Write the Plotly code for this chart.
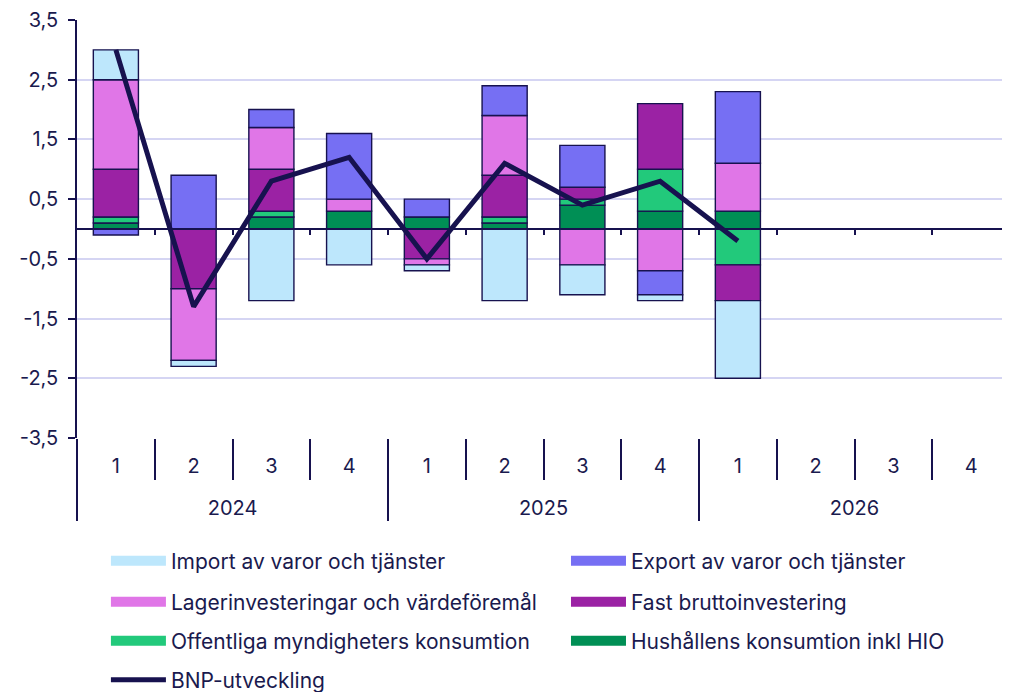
import plotly.graph_objects as go

years = ["2024"] * 4 + ["2025"] * 4 + ["2026"] * 4
quarters = ["1", "2", "3", "4"] * 3
year_labels = ["2024", "2025", "2026"]

hushall = [0.1, None, 0.2, 0.3, 0.2, 0.1, 0.4, 0.3, 0.3, None, None, None]
offentliga = [0.1, None, 0.1, None, None, 0.1, 0.1, 0.7, -0.6, None, None, None]
fast = [0.8, -1.0, 0.7, None, -0.5, 0.7, 0.2, 1.1, -0.6, None, None, None]
lager = [1.5, -1.2, 0.7, 0.2, -0.1, 1.0, -0.6, -0.7, 0.8, None, None, None]
export = [-0.1, 0.9, 0.3, 1.1, 0.3, 0.5, 0.7, -0.4, 1.2, None, None, None]
importv = [0.5, -0.1, -1.2, -0.6, -0.1, -1.2, -0.5, -0.1, -1.3, None, None, None]
bnp = [3.0, -1.3, 0.8, 1.2, -0.5, 1.1, 0.4, 0.8, -0.2, None, None, None]

y_ticks = [-3.5, -2.5, -1.5, -0.5, 0.5, 1.5, 2.5, 3.5]
y_ticktext = [f"{v:.1f}".replace(".", ",") for v in y_ticks]

n = len(quarters)
idx = list(range(n))
boundaries = [i + 0.5 for i in range(n - 1)]
year_centers = [4 * k + 1.5 for k in range(len(year_labels))]
year_edges = [4 * k - 0.5 for k in range(len(year_labels) + 1)]
xr = [-0.5, n - 0.5]

NAVY = "#17124f"
TEXT = "#1a1a4e"
FONT = "Inter"
x = [years, quarters]

# (name, values, colour, legend id, legend column, legend row)
series = [
    ("Hushållens konsumtion inkl HIO", hushall, "#008f55", "legend6", 1, 2),
    ("Offentliga myndigheters konsumtion", offentliga, "#22c97b", "legend5", 0, 2),
    ("Fast bruttoinvestering", fast, "#9b22a4", "legend4", 1, 1),
    ("Lagerinvesteringar och värdeföremål", lager, "#e076e7", "legend3", 0, 1),
    ("Export av varor och tjänster", export, "#766ff3", "legend2", 1, 0),
    ("Import av varor och tjänster", importv, "#bde7fc", "legend", 0, 0),
]

fig = go.Figure()
for name, vals, color, leg, col, row in series:
    fig.add_trace(go.Bar(
        x=x, y=vals, name=name, showlegend=False,
        marker=dict(color=color, line=dict(color=NAVY, width=1.4)),
        width=0.58,
    ))

fig.add_trace(go.Scatter(
    x=x, y=bnp, name="BNP-utveckling", mode="lines", legend="legend7",
    line=dict(color=NAVY, width=5),
))

# legend swatches (wide rectangles) for the bar series; each also anchors one
# of the overlay axes used for the zero line, separators and labels
over_axes = ["x2", "x3", "x4", "x5", "x6"]
for i, (name, vals, color, leg, col, row) in enumerate(series):
    fig.add_trace(go.Scatter(
        x=[None], y=[None], name=name, mode="lines", legend=leg,
        xaxis=over_axes[i % len(over_axes)],
        line=dict(color=color, width=14), hoverinfo="skip",
    ))

# page offset of 8 px (body margin) is compensated in the figure size/margins
OFF = 8
row_px = [561, 602, 641, 680]
col_x = [0.031, 0.5241]
plot_top, plot_bot = 20, 438


def py(p):
    return (plot_bot - p) / (plot_bot - plot_top)


legends = {}
for name, vals, color, leg, col, row in series:
    legends[leg] = (col, row)
legends["legend7"] = (0, 3)
layout_legends = {}
for leg, (col, row) in legends.items():
    layout_legends[leg] = dict(
        x=col_x[col], y=py(row_px[row]), xanchor="left", yanchor="middle",
        orientation="h", itemwidth=55, bgcolor="rgba(0,0,0,0)",
        font=dict(family=FONT, size=21, color=TEXT),
    )

common_over = dict(overlaying="x", anchor="free", range=xr, showgrid=False,
                   zeroline=False, side="bottom")

fig.update_layout(
    width=1010 - OFF, height=692 - OFF,
    margin=dict(l=77 - OFF, r=0, t=20 - OFF, b=254, autoexpand=False),
    barmode="relative",
    plot_bgcolor="white", paper_bgcolor="white",
    font=dict(family=FONT, size=20, color=TEXT),
    showlegend=True,
    xaxis=dict(
        type="multicategory", range=xr, showgrid=False, showline=False,
        ticks="", showticklabels=False, showdividers=False,
    ),
    # zero line with small ticks at category boundaries
    xaxis2=dict(**common_over, position=0.5, tickvals=boundaries, ticks="outside",
                ticklen=5, tickwidth=1.5, tickcolor=NAVY, showline=True,
                linecolor=NAVY, linewidth=2, showticklabels=False),
    # quarter separators below the plot
    xaxis3=dict(**common_over, position=0, tickvals=boundaries, ticks="outside",
                ticklen=41, tickwidth=1.5, tickcolor=NAVY, showline=False,
                showticklabels=False),
    # year dividers
    xaxis4=dict(**common_over, position=0, tickvals=year_edges, ticks="outside",
                ticklen=82, tickwidth=1.5, tickcolor=NAVY, showline=False,
                showticklabels=False),
    # quarter labels
    xaxis5=dict(**common_over, position=0, tickvals=idx, ticktext=quarters, ticks="",
                showline=False, showticklabels=True, ticklabelstandoff=14,
                tickfont=dict(family=FONT, size=20, color=TEXT)),
    # year labels
    xaxis6=dict(**common_over, position=0, tickvals=year_centers, ticktext=year_labels,
                ticks="", showline=False, showticklabels=True, ticklabelstandoff=56,
                tickfont=dict(family=FONT, size=20, color=TEXT)),
    yaxis=dict(
        range=[-3.5, 3.5], tickvals=y_ticks, ticktext=y_ticktext,
        showgrid=True, gridcolor="#d5d5f3", gridwidth=2,
        showline=True, linecolor=NAVY, linewidth=1.5,
        ticks="outside", ticklen=7, tickwidth=1.5, tickcolor=NAVY, zeroline=False,
        ticklabelstandoff=6,
        tickfont=dict(family=FONT, size=20, color=TEXT),
    ),
    **layout_legends,
)

fig.write_html("out.html")
